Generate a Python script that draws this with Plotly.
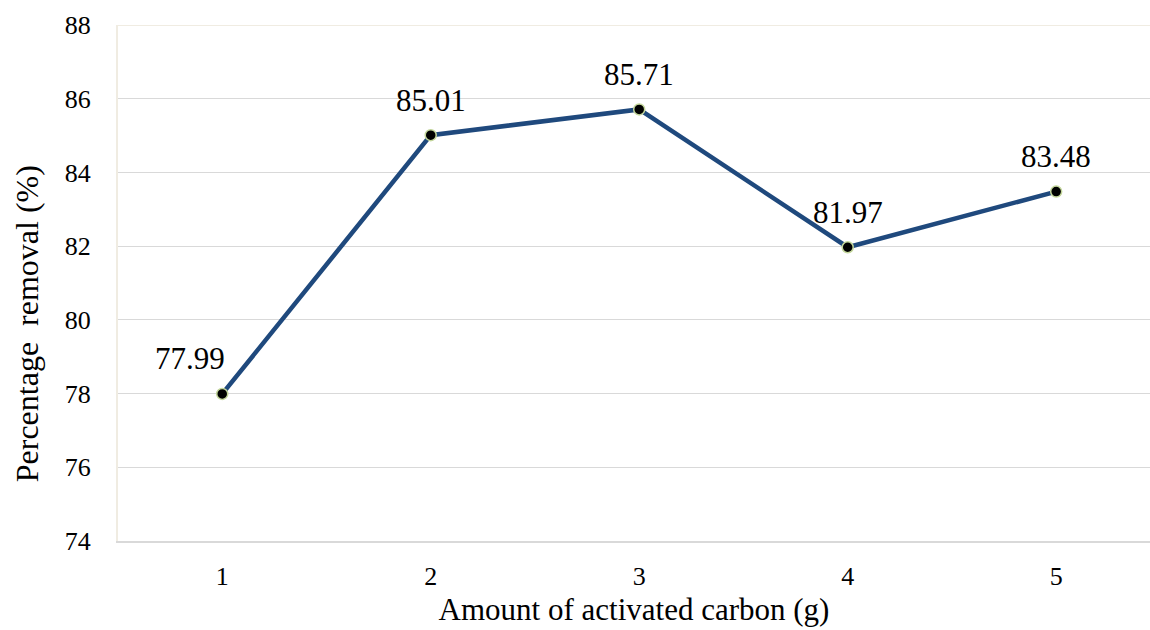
import plotly.graph_objects as go

# Removal efficiency vs. adsorbent dose
carbon_g = [1, 2, 3, 4, 5]
removal_pct = [77.99, 85.01, 85.71, 81.97, 83.48]
y_ticks = [74, 76, 78, 80, 82, 84, 86, 88]

serif = "Times New Roman"

fig = go.Figure()
fig.add_trace(go.Scatter(
    x=carbon_g, y=removal_pct,
    mode="lines+markers",
    line=dict(color="#1F497D", width=4.5),
    marker=dict(size=11, color="#000000", line=dict(color="#C3D69B", width=1.5)),
    showlegend=False,
    hoverinfo="skip",
))

# value labels above each point (first one sits to the left of the line)
label_shift = {0: -32}
for i, (xv, yv) in enumerate(zip(carbon_g, removal_pct)):
    fig.add_annotation(
        x=xv, y=yv, text=f"{yv:.2f}", showarrow=False,
        xshift=label_shift.get(i, 0), yshift=35,
        font=dict(family=serif, size=31, color="#000000"),
    )

# vertical axis title, set a little below the middle of the axis
fig.add_annotation(
    xref="paper", yref="paper", x=0, y=0.42, xshift=-91,
    text="Percentage\u00a0 removal (%)", textangle=-90, showarrow=False,
    xanchor="center", yanchor="middle",
    font=dict(family=serif, size=32, color="#000000"),
)

fig.update_layout(
    width=1150, height=630,
    margin=dict(l=118, r=0, t=25, b=89),
    paper_bgcolor="white", plot_bgcolor="white",
    font=dict(family=serif, color="#000000"),
    xaxis=dict(
        range=[0.5, 5.45], tickvals=carbon_g, ticktext=[str(v) for v in carbon_g],
        showgrid=False, zeroline=False,
        showline=True, linecolor="#D9D9D9", linewidth=2,
        ticks="", ticklabelstandoff=11,
        tickfont=dict(family=serif, size=26),
        title=dict(text="Amount of activated carbon (g)", font=dict(family=serif, size=31), standoff=8),
    ),
    yaxis=dict(
        range=[74, 88], tickvals=y_ticks,
        showgrid=True, gridcolor="#D9D9D9", gridwidth=1.3, zeroline=False,
        showline=True, linecolor="#F0ECE2", linewidth=2,
        ticks="", ticklabelstandoff=20,
        tickfont=dict(family=serif, size=26),
    ),
)

# top border line
fig.add_shape(type="line", xref="paper", yref="y", x0=0, x1=1, y0=88, y1=88,
              line=dict(color="#F0ECE2", width=2), layer="below")

fig.write_html("out.html")
